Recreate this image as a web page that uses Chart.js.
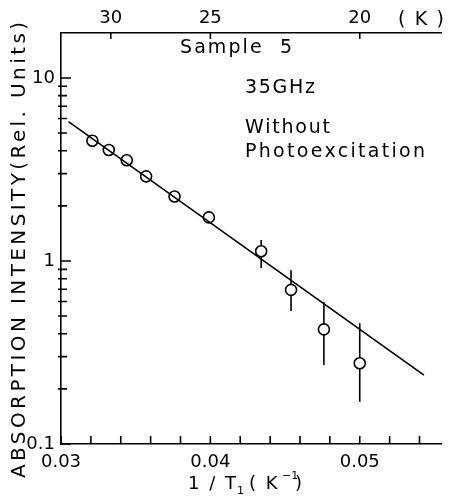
<!DOCTYPE html>
<html>
<head>
<meta charset="utf-8">
<script src="https://cdn.jsdelivr.net/npm/chart.js@4"></script>
<style>
  html, body { margin: 0; padding: 0; background: #fff; }
  #box { width: 449px; height: 498px; }
</style>
</head>
<body>
<div id="box"><canvas id="chart"></canvas></div>
<script>
// measured points, 1/T (K^-1) and absorption intensity (rel. units)
const inv_t = [0.0321, 0.0332, 0.0344, 0.0357, 0.0376, 0.0399, 0.0434, 0.0454, 0.0476, 0.0500];
const intensity = [4.54, 4.04, 3.55, 2.90, 2.25, 1.73, 1.13, 0.695, 0.423, 0.276];
const err_low = [null, null, null, null, null, null, 0.915, 0.533, 0.270, 0.170];
const err_high = [null, null, null, null, null, null, 1.30, 0.89, 0.597, 0.457];

// fitted line
const fit_x = [0.0305, 0.0543];
const fit_y = [5.77, 0.238];

// ticks
const x_major = [0.03, 0.04, 0.05];
const x_minor = [0.032, 0.034, 0.036, 0.038, 0.042, 0.044, 0.046, 0.048, 0.052, 0.054];
const y_major = [0.1, 1, 10];
const y_minor = [0.2, 0.3, 0.4, 0.5, 0.6, 0.7, 0.8, 0.9, 2, 3, 4, 5, 6, 7, 8, 9];
const temp_ticks = [30, 25, 20];

const font_family = "'DejaVu Sans', sans-serif";

// draws text stretched by letter spacing so it spans `width` px from x
function spaced_text(ctx, text, x, y, width) {
  ctx.letterSpacing = "0px";
  const w = ctx.measureText(text).width;
  const gap = Math.max(0, (width - w) / (text.length - 1));
  ctx.letterSpacing = gap + "px";
  ctx.fillText(text, x, y);
  ctx.letterSpacing = "0px";
}

const frame_plugin = {
  id: "frame",
  beforeDatasetsDraw(chart) {
    const ctx = chart.ctx;
    const x = chart.scales.x;
    const y = chart.scales.y;
    ctx.save();
    ctx.strokeStyle = "#000";
    ctx.lineWidth = 1.6;
    // error bars
    for (let i = 0; i < inv_t.length; i++) {
      if (err_low[i] === null) continue;
      const px = x.getPixelForValue(inv_t[i]);
      ctx.beginPath();
      ctx.moveTo(px, y.getPixelForValue(err_low[i]));
      ctx.lineTo(px, y.getPixelForValue(err_high[i]));
      ctx.stroke();
    }
    ctx.restore();
  },
  afterDraw(chart) {
    const ctx = chart.ctx;
    const area = chart.chartArea;
    const x = chart.scales.x;
    const y = chart.scales.y;
    ctx.save();
    ctx.strokeStyle = "#000";
    ctx.fillStyle = "#000";
    ctx.lineWidth = 1.6;

    // inward ticks
    ctx.beginPath();
    y_major.forEach(function(v) {
      const py = y.getPixelForValue(v);
      ctx.moveTo(area.left, py);
      ctx.lineTo(area.left + 10, py);
    });
    y_minor.forEach(function(v) {
      const py = y.getPixelForValue(v);
      ctx.moveTo(area.left - 3, py);
      ctx.lineTo(area.left + 6, py);
    });
    x_major.concat(x_minor).forEach(function(v) {
      const px = x.getPixelForValue(v);
      ctx.moveTo(px, area.bottom);
      ctx.lineTo(px, area.bottom - 8);
    });
    temp_ticks.forEach(function(t) {
      const px = x.getPixelForValue(1 / t);
      ctx.moveTo(px, area.top);
      ctx.lineTo(px, area.top + 6);
    });
    ctx.stroke();

    // texts
    ctx.font = "19px " + font_family;
    ctx.textBaseline = "middle";
    ctx.textAlign = "left";
    spaced_text(ctx, "Sample  5", 180, 48, 112);
    spaced_text(ctx, "( K )", 398, 20, 46);
    spaced_text(ctx, "35GHz", 245, 88, 70);
    spaced_text(ctx, "Without", 245, 128, 85);
    spaced_text(ctx, "Photoexcitation", 245, 152, 180);

    // x axis title
    ctx.font = "18px " + font_family;
    ctx.letterSpacing = "2px";
    ctx.fillText("1 / T", 188, 484);
    ctx.font = "11px " + font_family;
    ctx.letterSpacing = "0px";
    ctx.fillText("1", 237, 491);
    ctx.font = "18px " + font_family;
    ctx.letterSpacing = "2px";
    ctx.fillText("( K", 249, 484);
    ctx.font = "11px " + font_family;
    ctx.letterSpacing = "0px";
    ctx.fillText("\u22121", 282, 476);
    ctx.font = "18px " + font_family;
    ctx.fillText(")", 295, 484);

    // y axis title
    ctx.translate(20, 478);
    ctx.rotate(-Math.PI / 2);
    ctx.textAlign = "left";
    ctx.font = "20px " + font_family;
    spaced_text(ctx, "ABSORPTION INTENSITY(Rel. Units)", 0, 0, 456);
    ctx.restore();
  }
};

const tick_font = { family: font_family, size: 18 };

new Chart(document.getElementById("chart"), {
  type: "scatter",
  data: {
    datasets: [
      {
        type: "line",
        data: fit_x.map(function(v, i) { return { x: v, y: fit_y[i] }; }),
        borderColor: "#000",
        borderWidth: 1.6,
        pointRadius: 0,
        fill: false,
      },
      {
        data: inv_t.map(function(v, i) { return { x: v, y: intensity[i] }; }),
        pointStyle: "circle",
        pointRadius: 5.5,
        borderColor: "#000",
        borderWidth: 1.6,
        backgroundColor: "#fff",
      },
    ]
  },
  options: {
    responsive: true,
    maintainAspectRatio: false,
    animation: false,
    layout: { padding: 0 },
    plugins: {
      legend: { display: false },
      tooltip: { enabled: false },
    },
    scales: {
      x: {
        type: "linear",
        position: "bottom",
        min: 0.03,
        max: 0.0555,
        afterBuildTicks: function(scale) {
          scale.ticks = x_major.map(function(v) { return { value: v }; });
        },
        afterFit: function(scale) { scale.height = 54; },
        ticks: {
          autoSkip: false,
          maxRotation: 0,
          padding: 8,
          color: "#000",
          font: tick_font,
          callback: function(v) { return v.toFixed(2); },
        },
        grid: { drawOnChartArea: false, drawTicks: false },
        border: { color: "#000", width: 1.6 },
      },
      top: {
        type: "linear",
        position: "top",
        min: 0.03,
        max: 0.0555,
        afterBuildTicks: function(scale) {
          scale.ticks = temp_ticks.map(function(t) { return { value: 1 / t }; });
        },
        afterFit: function(scale) { scale.height = 33; },
        ticks: {
          autoSkip: false,
          maxRotation: 0,
          padding: 4,
          color: "#000",
          font: tick_font,
          callback: function(v) { return String(Math.round(1 / v)); },
        },
        grid: { drawOnChartArea: false, drawTicks: false },
        border: { color: "#000", width: 1.6 },
      },
      y: {
        type: "logarithmic",
        position: "left",
        min: 0.1,
        max: 17.6,
        afterBuildTicks: function(scale) {
          scale.ticks = y_major.map(function(v) { return { value: v }; });
        },
        afterFit: function(scale) { scale.width = 61; },
        ticks: {
          autoSkip: false,
          padding: 6,
          color: "#000",
          font: tick_font,
          callback: function(v) { return String(v); },
        },
        grid: { drawOnChartArea: false, drawTicks: false },
        border: { color: "#000", width: 1.6 },
      },
    }
  },
  plugins: [frame_plugin],
});
</script>
</body>
</html>
